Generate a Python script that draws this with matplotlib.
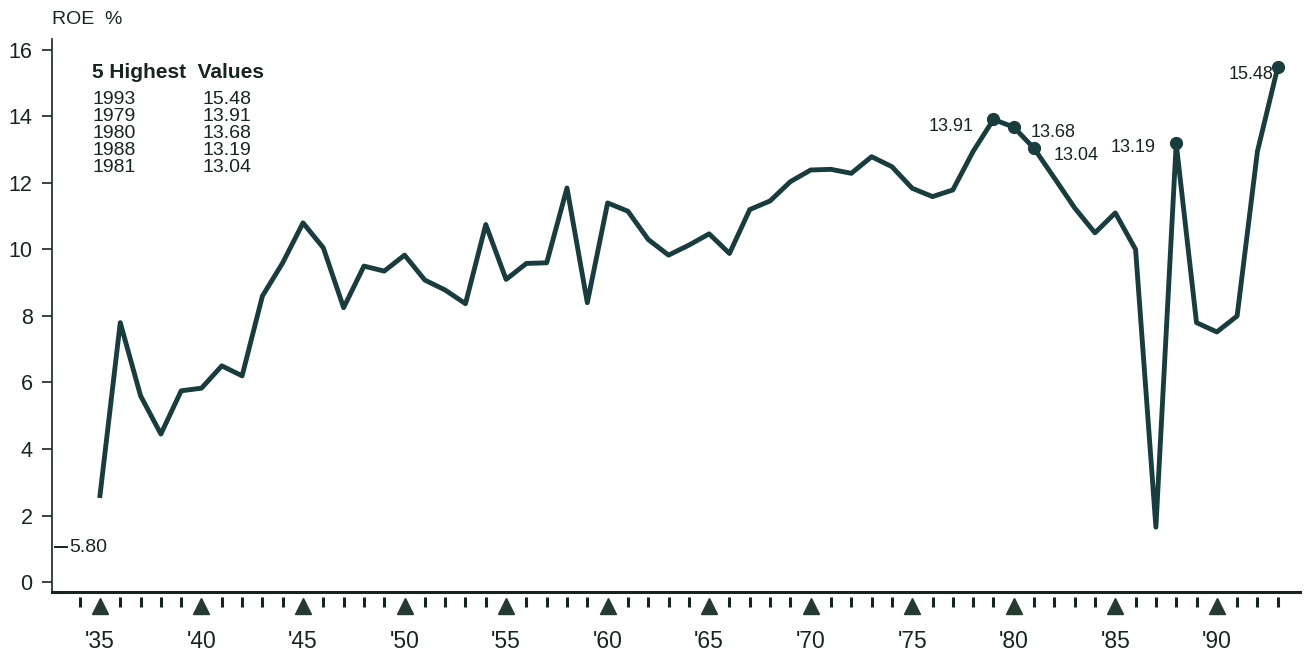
"""ROE % by year, 1935-1993, with the five highest values called out."""

import matplotlib

matplotlib.use("Agg")
import matplotlib.pyplot as plt
import matplotlib.transforms as mtransforms

YEARS = list(range(1935, 1994))
ROE = [
    2.6, 7.8, 5.6, 4.45, 5.75, 5.83, 6.5, 6.2, 8.6, 9.6,          # 1935-44
    10.8, 10.05, 8.25, 9.5, 9.35, 9.83, 9.08, 8.78, 8.37, 10.75,  # 1945-54
    9.1, 9.58, 9.6, 11.85, 8.4, 11.4, 11.15, 10.3, 9.83, 10.13,   # 1955-64
    10.47, 9.88, 11.2, 11.46, 12.04, 12.39, 12.41, 12.29, 12.79,  # 1965-73
    12.49, 11.84, 11.59, 11.79, 12.95, 13.91, 13.68, 13.04,       # 1974-81
    12.15, 11.25, 10.5, 11.1, 10.0, 1.65, 13.19, 7.8, 7.52, 8.0,  # 1982-91
    12.95, 15.48,                                                 # 1992-93
]
YTICKS = [0, 2, 4, 6, 8, 10, 12, 14, 16]
LABEL_YEARS = list(range(1935, 1991, 5))
MINOR_YEARS = [y for y in range(1934, 1994) if y % 5 != 0]
REF_VALUE = 1.05
REF_TEXT = "5.80"

LINE = "#193c3f"
INK = "#16251f"
FONT = "Liberation Sans"

# five highest values
top5 = sorted(zip(YEARS, ROE), key=lambda p: p[1], reverse=True)[:5]

# label offsets (points) next to each highlighted point
LABEL_OFFSETS = {
    1993: (-3, -5, "right"),
    1979: (-14, -5, "right"),
    1980: (12, -4, "left"),
    1981: (14, -5, "left"),
    1988: (-15, -3, "right"),
}

fig = plt.figure(figsize=(13.14, 6.54), dpi=100)
ax = fig.add_axes([0.0396, 0.0948, 0.9498, 0.8456])

ax.plot(YEARS, ROE, color=LINE, lw=3.5, solid_joinstyle="round", zorder=3)
ax.plot([p[0] for p in top5], [p[1] for p in top5], "o", color=LINE,
        ms=8.5, zorder=4)
for yr, val in top5:
    dx, dy, ha = LABEL_OFFSETS[yr]
    ax.annotate(f"{val:.2f}", (yr, val), xytext=(dx, dy),
                textcoords="offset points", ha=ha, va="center",
                fontsize=13, color=INK, family=FONT, zorder=5)

ax.set_xlim(1932.64, 1994.1)
ax.set_ylim(-0.3, 16.33)

for side in ("top", "right"):
    ax.spines[side].set_visible(False)
ax.spines["left"].set_color(INK)
ax.spines["left"].set_linewidth(1.2)
ax.spines["bottom"].set_color(INK)
ax.spines["bottom"].set_linewidth(2.2)

ax.set_yticks(YTICKS)
ax.set_yticklabels([str(v) for v in YTICKS], fontsize=15.5, color=INK,
                   family=FONT)
ax.tick_params(axis="y", length=7, width=1.2, color=INK, pad=7)

ax.set_xticks(LABEL_YEARS)
ax.set_xticklabels([f"'{y % 100:02d}" for y in LABEL_YEARS], fontsize=16.5,
                   color=INK, family=FONT)
ax.tick_params(axis="x", length=0, pad=27)

# year ticks and 5-year triangles sitting under the axis
blend = mtransforms.blended_transform_factory(ax.transData, ax.transAxes)
ax.plot(MINOR_YEARS, [-0.0175] * len(MINOR_YEARS), "|", color=INK,
        ms=7, mew=2.2, transform=blend, clip_on=False)
ax.plot(LABEL_YEARS, [-0.026] * len(LABEL_YEARS), "^", color="#253a30",
        ms=11, transform=blend, clip_on=False)

# reference mark on the y axis
blend_y = mtransforms.blended_transform_factory(ax.transAxes, ax.transData)
ax.plot([0.002, 0.012], [REF_VALUE, REF_VALUE], color=INK, lw=1.4,
        transform=blend_y, clip_on=False)
ax.text(0.0135, REF_VALUE, REF_TEXT, transform=blend_y, ha="left",
        va="center", fontsize=14, color=INK, family=FONT)

# axis title and the highest-values table
fig.text(52 / 1314, 1 - 20 / 654, "ROE  %", ha="left", va="center",
         fontsize=14, color=INK, family=FONT)
fig.text(92 / 1314, 1 - 72 / 654, "5 Highest  Values", ha="left",
         va="center", fontsize=15, fontweight="bold", color=INK,
         family=FONT)
for i, (yr, val) in enumerate(top5):
    ypix = 100 + i * 16.8
    fig.text(92 / 1314, 1 - ypix / 654, str(yr), ha="left", va="center",
             fontsize=14, color=INK, family=FONT)
    fig.text(202 / 1314, 1 - ypix / 654, f"{val:.2f}", ha="left",
             va="center", fontsize=14, color=INK, family=FONT)

fig.savefig("out.png", dpi=100)
